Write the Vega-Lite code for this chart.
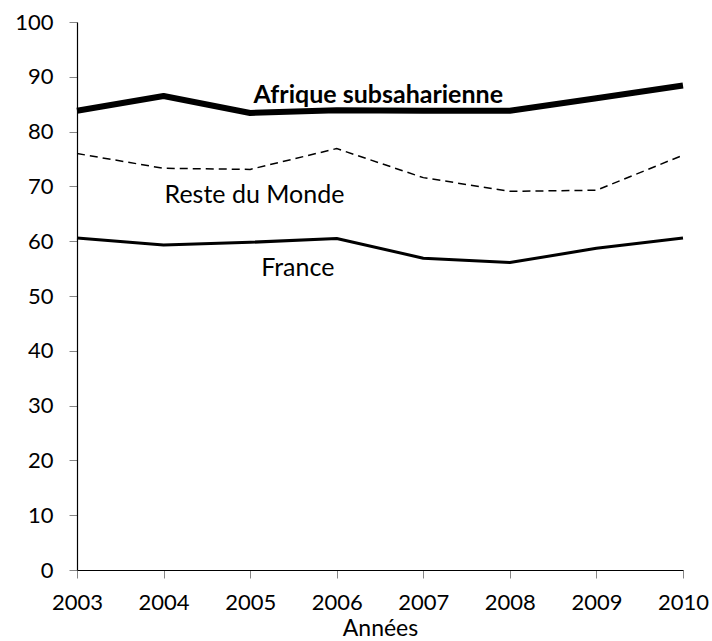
{
  "$schema": "https://vega.github.io/schema/vega-lite/v6.json",
  "autosize": "none",
  "width": 606,
  "height": 548,
  "padding": {"left": 77, "top": 22, "right": 29, "bottom": 71},
  "background": "white",
  "config": {
    "view": {"stroke": null},
    "font": "Lato",
    "axis": {"grid": false, "domainColor": "#000000", "domainWidth": 1.2, "tickColor": "#868686", "tickSize": 8, "labelColor": "#000000", "labelFont": "Lato", "labelFontSize": 22, "titleFont": "Lato", "titleFontSize": 23, "titleFontWeight": "normal", "titleColor": "#000000"}
  },
  "datasets": {
    "series": [
      {"year": 2003, "serie": "Afrique subsaharienne", "value": 83.8},
      {"year": 2004, "serie": "Afrique subsaharienne", "value": 86.5},
      {"year": 2005, "serie": "Afrique subsaharienne", "value": 83.4},
      {"year": 2006, "serie": "Afrique subsaharienne", "value": 83.9},
      {"year": 2007, "serie": "Afrique subsaharienne", "value": 83.8},
      {"year": 2008, "serie": "Afrique subsaharienne", "value": 83.8},
      {"year": 2009, "serie": "Afrique subsaharienne", "value": 86.1},
      {"year": 2010, "serie": "Afrique subsaharienne", "value": 88.4},
      {"year": 2003, "serie": "Reste du Monde", "value": 76.0},
      {"year": 2004, "serie": "Reste du Monde", "value": 73.3},
      {"year": 2005, "serie": "Reste du Monde", "value": 73.1},
      {"year": 2006, "serie": "Reste du Monde", "value": 76.9},
      {"year": 2007, "serie": "Reste du Monde", "value": 71.6},
      {"year": 2008, "serie": "Reste du Monde", "value": 69.1},
      {"year": 2009, "serie": "Reste du Monde", "value": 69.3},
      {"year": 2010, "serie": "Reste du Monde", "value": 75.7},
      {"year": 2003, "serie": "France", "value": 60.6},
      {"year": 2004, "serie": "France", "value": 59.3},
      {"year": 2005, "serie": "France", "value": 59.8},
      {"year": 2006, "serie": "France", "value": 60.5},
      {"year": 2007, "serie": "France", "value": 56.9},
      {"year": 2008, "serie": "France", "value": 56.1},
      {"year": 2009, "serie": "France", "value": 58.7},
      {"year": 2010, "serie": "France", "value": 60.6}
    ],
    "labels": [
      {"label": "Afrique subsaharienne", "x": 2006.48, "y": 85.2, "main": true},
      {"label": "Reste du Monde", "x": 2005.05, "y": 67.0, "main": false},
      {"label": "France", "x": 2005.55, "y": 53.7, "main": false}
    ]
  },
  "layer": [
    {
      "data": {"name": "series"},
      "transform": [{"filter": "datum.serie === 'Afrique subsaharienne'"}],
      "mark": {"type": "line", "color": "#000000", "strokeWidth": 6, "strokeJoin": "round"},
      "encoding": {
        "x": {"field": "year", "type": "quantitative", "scale": {"domain": [2003, 2010], "nice": false, "zero": false}, "axis": {"values": [2003, 2004, 2005, 2006, 2007, 2008, 2009, 2010], "format": "d", "title": "Années", "labelPadding": 14, "labelFlush": false, "titlePadding": 4}},
        "y": {"field": "value", "type": "quantitative", "scale": {"domain": [0, 100], "nice": false}, "axis": {"values": [0, 10, 20, 30, 40, 50, 60, 70, 80, 90, 100], "title": null, "labelPadding": 16}}
      }
    },
    {
      "data": {"name": "series"},
      "transform": [{"filter": "datum.serie === 'Reste du Monde'"}],
      "mark": {"type": "line", "color": "#000000", "strokeWidth": 1.5, "strokeDash": [8, 5]},
      "encoding": {
        "x": {"field": "year", "type": "quantitative"},
        "y": {"field": "value", "type": "quantitative"}
      }
    },
    {
      "data": {"name": "series"},
      "transform": [{"filter": "datum.serie === 'France'"}],
      "mark": {"type": "line", "color": "#000000", "strokeWidth": 3, "strokeJoin": "round"},
      "encoding": {
        "x": {"field": "year", "type": "quantitative"},
        "y": {"field": "value", "type": "quantitative"}
      }
    },
    {
      "data": {"name": "labels"},
      "transform": [{"filter": "datum.main"}],
      "mark": {"type": "text", "fontSize": 25, "fontWeight": "bold", "baseline": "alphabetic", "align": "center", "color": "#000000"},
      "encoding": {
        "x": {"field": "x", "type": "quantitative"},
        "y": {"field": "y", "type": "quantitative"},
        "text": {"field": "label"}
      }
    },
    {
      "data": {"name": "labels"},
      "transform": [{"filter": "!datum.main"}],
      "mark": {"type": "text", "fontSize": 25, "baseline": "alphabetic", "align": "center", "color": "#000000"},
      "encoding": {
        "x": {"field": "x", "type": "quantitative"},
        "y": {"field": "y", "type": "quantitative"},
        "text": {"field": "label"}
      }
    }
  ]
}
